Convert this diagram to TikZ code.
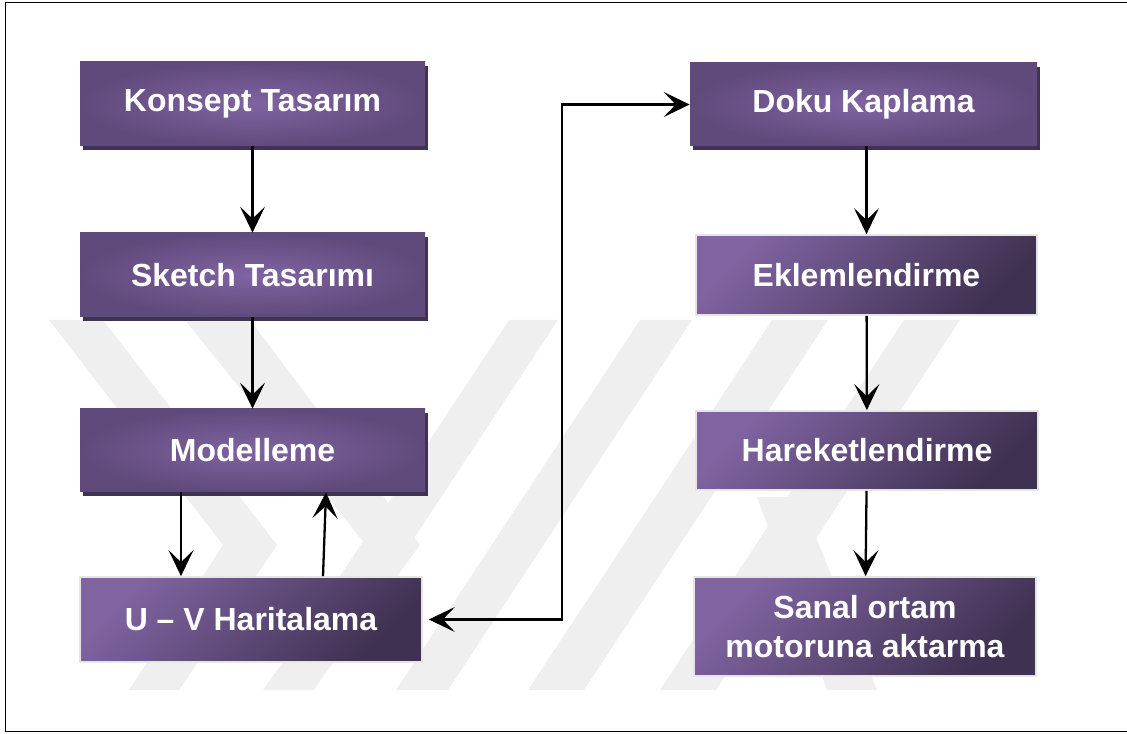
\documentclass[tikz,border=0pt]{standalone}
\usepackage{fontspec}
\setmainfont{Liberation Sans}
\usetikzlibrary{arrows.meta,shadows}

\definecolor{boxlight}{RGB}{128,100,162}
\definecolor{boxmid}{RGB}{96,74,123}
\definecolor{boxdark}{RGB}{63,49,81}
\definecolor{boxshadow}{RGB}{64,50,82}
\definecolor{wmgray}{RGB}{239,239,239}

\begin{document}
\begin{tikzpicture}[
  stage/.style={rectangle, minimum width=6.9cm, minimum height=1.68cm, inner color=boxlight, outer color=boxmid, text=white, font=\fontsize{18.2}{21.8}\selectfont\bfseries, general shadow={shadow xshift=0.06cm, shadow yshift=-0.08cm, fill=boxshadow}},
  flat/.style={rectangle, minimum width=6.84cm, minimum height=1.6cm, top color=boxlight, bottom color=boxdark, shading angle=45, draw=black!10, line width=1pt, text=white, align=center, font=\fontsize{18.2}{21.8}\selectfont\bfseries},
  flow/.style={line width=1.3pt, -{Stealth[length=0.52cm, width=0.5cm, inset=0.24cm]}},
  both/.style={line width=1.3pt, {Stealth[length=0.52cm, width=0.5cm, inset=0.24cm]}-{Stealth[length=0.52cm, width=0.5cm, inset=0.24cm]}}
]

\useasboundingbox (0,0) rectangle (22.54,14.66);
\draw[line width=1pt] (0.11,0.03) rectangle (22.8,14.61);

\fill[wmgray] (0.98,8.26) -- (2.06,8.26) -- (5.54,3.76) -- (3.58,0.86) -- (2.58,0.86) -- (4.46,3.76) -- cycle;
\fill[wmgray] (3.7,8.26) -- (5.0,8.26) -- (8.4,3.76) -- (6.26,0.86) -- (5.26,0.86) -- (7.32,3.76) -- cycle;
\fill[wmgray] (10.18,8.26) -- (11.16,8.26) -- (6.28,0.86) -- (5.3,0.86) -- cycle;
\fill[wmgray] (12.8,8.26) -- (13.84,8.26) -- (8.96,0.86) -- (7.92,0.86) -- cycle;
\fill[wmgray] (15.44,8.26) -- (16.56,8.26) -- (11.68,0.86) -- (10.56,0.86) -- cycle;
\fill[wmgray] (18.08,8.26) -- (19.2,8.26) -- (14.32,0.86) -- (13.2,0.86) -- cycle;
\fill[wmgray] (15.14,4.72) -- (16.0,4.72) -- (17.54,0.86) -- (16.54,0.86) -- cycle;

\node[stage] (konsept) at (5.05,12.58) {Konsept Tasarım};
\node[stage] (sketch) at (5.05,9.16) {Sketch Tasarımı};
\node[stage, minimum height=1.66cm] (model) at (5.05,5.65) {Modelleme};
\node[flat, minimum height=1.7cm] (uv) at (5.02,2.27) {U – V Haritalama};
\node[stage, minimum width=6.94cm, minimum height=1.66cm] (doku) at (17.27,12.57) {Doku Kaplama};
\node[flat, minimum width=6.82cm] (eklem) at (17.33,9.16) {Eklemlendirme};
\node[flat, minimum height=1.58cm] (harek) at (17.34,5.65) {Hareketlendirme};
\node[flat, minimum height=1.98cm] (sanal) at (17.3,2.13) {Sanal ortam\\motoruna aktarma};

\draw[flow] (konsept) -- (sketch);
\draw[flow] (sketch) -- (model);
\draw[flow] ([xshift=-1.43cm]model.south) -- ([xshift=-1.40cm]uv.north);
\draw[flow] ([xshift=1.44cm]uv.north) -- ([xshift=1.47cm]model.south);
\draw[both] ([xshift=0.12cm]uv.east) -- ++(2.66,0) |- (doku.west);
\draw[flow] (eklem.north |- doku.south) -- (eklem.north);
\draw[flow] (eklem) -- (harek);
\draw[flow] (harek) -- (sanal);
\end{tikzpicture}
\end{document}
